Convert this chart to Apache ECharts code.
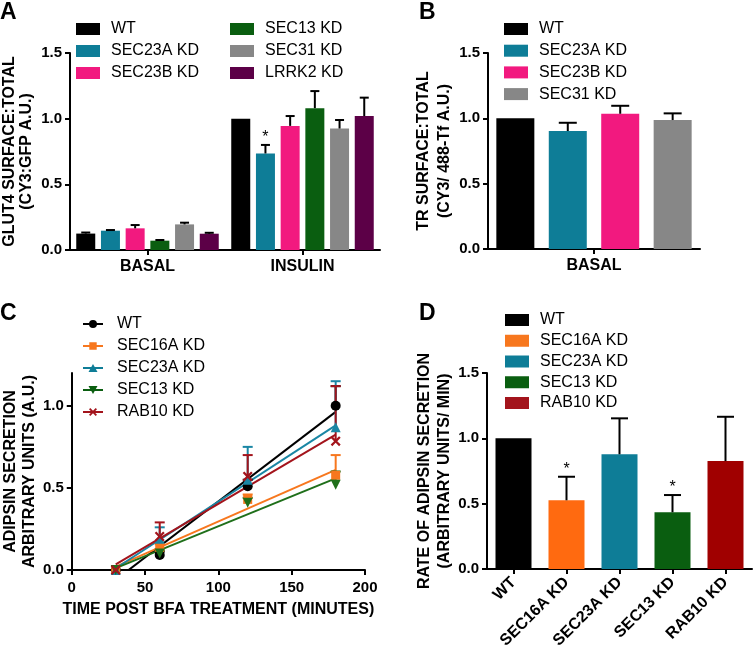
<!DOCTYPE html>
<html><head><meta charset="utf-8">
<script src="https://cdn.jsdelivr.net/npm/echarts@6/dist/echarts.min.js"></script>
<style>html,body{margin:0;padding:0;background:#fff}#c{width:754px;height:652px}</style>
</head><body><div id="c"></div>
<script>
// ---------- Panel A ----------
const aCategories = ['BASAL', 'INSULIN'];
const aNames = ['WT', 'SEC23A KD', 'SEC23B KD', 'SEC13 KD', 'SEC31 KD', 'LRRK2 KD'];
const aWT = [0.125, 1.00];
const aSEC23A = [0.147, 0.735];
const aSEC23B = [0.165, 0.945];
const aSEC13 = [0.071, 1.08];
const aSEC31 = [0.195, 0.925];
const aLRRK2 = [0.124, 1.02];
const aErrWT = [0.008, 0];
const aErrSEC23A = [0.005, 0.065];
const aErrSEC23B = [0.025, 0.075];
const aErrSEC13 = [0.005, 0.13];
const aErrSEC31 = [0.013, 0.065];
const aErrLRRK2 = [0.007, 0.14];
const aSigSEC23A = [0, 1];

// ---------- Panel B ----------
const bCategories = ['BASAL'];
const bNames = ['WT', 'SEC23A KD', 'SEC23B KD', 'SEC31 KD'];
const bValues = [1.00, 0.903, 1.035, 0.987];
const bErrors = [0, 0.063, 0.061, 0.051];

// ---------- Panel C ----------
const cNames = ['WT', 'SEC16A KD', 'SEC23A KD', 'SEC13 KD', 'RAB10 KD'];
const cTimes = [30, 60, 120, 180];
const cWT = [0.0, 0.092, 0.51, 1.00];
const cSEC16A = [0.0, 0.137, 0.43, 0.577];
const cSEC23A = [0.0, 0.19, 0.55, 0.87];
const cSEC13 = [0.0, 0.10, 0.41, 0.52];
const cRAB10 = [0.0, 0.204, 0.57, 0.785];
const cErrWT = [0, 0.02, 0.04, 0.12];
const cErrSEC16A = [0, 0.02, 0.03, 0.123];
const cErrSEC23A = [0, 0.07, 0.20, 0.28];
const cErrSEC13 = [0, 0.02, 0.03, 0.08];
const cErrRAB10 = [0, 0.086, 0.13, 0.335];
const cXTicks = [0, 50, 100, 150, 200];
const cYTicks = [0, 0.5, 1.0];

// ---------- Panel D ----------
const dCategories = ['WT', 'SEC16A KD', 'SEC23A KD', 'SEC13 KD', 'RAB10 KD'];
const dValues = [1.00, 0.526, 0.878, 0.434, 0.826];
const dErrors = [0, 0.18, 0.275, 0.132, 0.339];
const dSig = [0, 1, 0, 1, 0];

const yTicks = [0, 0.5, 1.0, 1.5];

// ---------- styling ----------
const FONT = "'Liberation Sans', Arial, Helvetica, sans-serif";
const aColors = ['#000000', '#0e7d97', '#f2197f', '#0a5e10', '#878787', '#5c0047'];
const bColors = ['#000000', '#0e7d97', '#f2197f', '#878787'];
const cColors = ['#000000', '#f7771e', '#1a86a4', '#1f6f1a', '#a3141c'];
const cSymbols = ['circle', 'rect', 'triangle', 'triangle', 'path://M0,1.6L1.6,0L5,3.4L8.4,0L10,1.6L6.6,5L10,8.4L8.4,10L5,6.6L1.6,10L0,8.4L3.4,5Z'];
const cSymbolSizes = [10, 9, 10, 10, 10];
const cSymbolRotate = [0, 0, 0, 180, 0];
const LINE = 'M0,3H20V5H0Z';
const cLegendIcons = [
  'path://' + LINE + 'M14,4A4,4 0 1,1 6,4A4,4 0 1,1 14,4Z',
  'path://' + LINE + 'M6.3,0.3H13.7V7.7H6.3Z',
  'path://' + LINE + 'M10,0L14.5,8H5.5Z',
  'path://' + LINE + 'M5.5,0H14.5L10,8Z',
  'path://' + LINE + 'M6,1.28L7.28,0L10,2.72L12.72,0L14,1.28L11.28,4L14,6.72L12.72,8L10,5.28L7.28,8L6,6.72L8.72,4Z'
];
const dColors = ['#000000', '#ff6a10', '#0e7d97', '#0a5e10', '#a00000'];

const aSeriesVals = [aWT, aSEC23A, aSEC23B, aSEC13, aSEC31, aLRRK2];
const aSeriesErr = [aErrWT, aErrSEC23A, aErrSEC23B, aErrSEC13, aErrSEC31, aErrLRRK2];
const aSeriesSig = [[0,0], aSigSEC23A, [0,0], [0,0], [0,0], [0,0]];
const cSeriesVals = [cWT, cSEC16A, cSEC23A, cSEC13, cRAB10];
const cSeriesErr = [cErrWT, cErrSEC16A, cErrSEC23A, cErrSEC13, cErrRAB10];

const axisLineStyle = { show: true, lineStyle: { color: '#000', width: 2 } };
const axisTickStyle = { show: true, length: 5, lineStyle: { color: '#000', width: 2 } };
const tickLabel = { color: '#000', fontFamily: FONT, fontWeight: 'bold', fontSize: 15 };
const nameStyle = (lh) => ({ color: '#000', fontFamily: FONT, fontWeight: 'bold', fontSize: 16, lineHeight: lh });

function valueYAxis(gi, name, gap, lh, max, ticks) {
  return {
    type: 'value', gridIndex: gi, min: 0, max: max, interval: 0.5,
    name: name, nameLocation: 'middle', nameGap: gap, nameTextStyle: nameStyle(lh),
    axisLine: axisLineStyle,
    axisTick: Object.assign({ customValues: ticks }, axisTickStyle),
    axisLabel: Object.assign({ margin: 8, customValues: ticks, formatter: v => v.toFixed(1) }, tickLabel),
    splitLine: { show: false }
  };
}
function catXAxis(gi, cats, extraLabel) {
  return {
    type: 'category', gridIndex: gi, data: cats,
    axisLine: axisLineStyle,
    axisTick: Object.assign({ alignWithLabel: true }, axisTickStyle),
    axisLabel: Object.assign({}, tickLabel, { fontSize: 16, margin: 9 }, extraLabel || {}),
    splitLine: { show: false }
  };
}

// error bar renderer for grouped bars
function makeBarErr(n, spacing, capW) {
  return function (params, api) {
    const c = api.value(0), v = api.value(1), e = api.value(2), s = api.value(3), sig = api.value(4);
    const base = api.coord([c, v]);
    const top = api.coord([c, v + e]);
    const x = base[0] + (s - (n - 1) / 2) * spacing;
    const children = [];
    const st = { stroke: '#000', lineWidth: 2 };
    if (e > 0) {
      children.push({ type: 'line', shape: { x1: x, y1: base[1], x2: x, y2: top[1] }, style: st });
      children.push({ type: 'line', shape: { x1: x - capW / 2, y1: top[1], x2: x + capW / 2, y2: top[1] }, style: st });
    }
    if (sig) {
      children.push({ type: 'text', x: x, y: top[1] + 1, style: { text: '*', fill: '#000', font: '16px ' + FONT, align: 'center', verticalAlign: 'bottom' } });
    }
    return { type: 'group', children: children };
  };
}

const series = [];
// A bars
aNames.forEach((nm, i) => {
  series.push({ type: 'bar', name: nm, xAxisIndex: 0, yAxisIndex: 0, data: aSeriesVals[i],
    barWidth: 19, barGap: '30%', itemStyle: { color: aColors[i] } });
});
const aErrData = [];
aNames.forEach((nm, i) => aCategories.forEach((c, j) => aErrData.push([j, aSeriesVals[i][j], aSeriesErr[i][j], i, aSeriesSig[i][j]])));
series.push({ type: 'custom', xAxisIndex: 0, yAxisIndex: 0, z: 10, renderItem: makeBarErr(6, 19 * 1.3, 9),
  data: aErrData, encode: { x: 0, y: 1 }, clip: false });

// B bars
bNames.forEach((nm, i) => {
  series.push({ type: 'bar', name: nm, xAxisIndex: 1, yAxisIndex: 1, data: [bValues[i]],
    barWidth: 38, barGap: '38%', itemStyle: { color: bColors[i] } });
});
series.push({ type: 'custom', xAxisIndex: 1, yAxisIndex: 1, z: 10, renderItem: makeBarErr(4, 38 * 1.38, 18),
  data: bNames.map((nm, i) => [0, bValues[i], bErrors[i], i, 0]), encode: { x: 0, y: 1 }, clip: false });

// C fitted lines, points, error bars
function linFit(xs, ys) {
  const n = xs.length;
  const mx = xs.reduce((a, b) => a + b, 0) / n, my = ys.reduce((a, b) => a + b, 0) / n;
  let sxy = 0, sxx = 0;
  for (let i = 0; i < n; i++) { sxy += (xs[i] - mx) * (ys[i] - my); sxx += (xs[i] - mx) * (xs[i] - mx); }
  const k = sxy / sxx; return [k, my - k * mx];
}
cNames.forEach((nm, i) => {
  const f = linFit(cTimes, cSeriesVals[i]);
  const x0 = cTimes[0], x1 = cTimes[cTimes.length - 1];
  series.push({ type: 'line', name: nm, xAxisIndex: 2, yAxisIndex: 2, z: 4,
    symbol: 'none', clip: true,
    data: [[x0, f[0] * x0 + f[1]], [x1, f[0] * x1 + f[1]]],
    lineStyle: { color: cColors[i], width: 2 }, itemStyle: { color: cColors[i], borderWidth: 0 } });
});
cNames.forEach((nm, i) => {
  series.push({ type: 'line', name: nm, xAxisIndex: 2, yAxisIndex: 2, z: 6,
    data: cTimes.map((t, j) => [t, cSeriesVals[i][j]]),
    symbol: cSymbols[i], symbolSize: cSymbolSizes[i], symbolRotate: cSymbolRotate[i], showSymbol: true,
    itemStyle: { color: cColors[i], borderWidth: 0 }, lineStyle: { opacity: 0, width: 0 }, clip: false });
});
const cErrData = [];
cNames.forEach((nm, i) => cTimes.forEach((t, j) => cErrData.push([t, cSeriesVals[i][j], cSeriesErr[i][j], i])));
series.push({ type: 'custom', xAxisIndex: 2, yAxisIndex: 2, z: 5, clip: false, data: cErrData, encode: { x: 0, y: 1 },
  renderItem: function (params, api) {
    const x = api.value(0), v = api.value(1), e = api.value(2), s = api.value(3);
    if (!(e > 0)) return { type: 'group', children: [] };
    const b = api.coord([x, v]), t = api.coord([x, v + e]);
    const st = { stroke: cColors[s], lineWidth: 2 };
    return { type: 'group', children: [
      { type: 'line', shape: { x1: b[0], y1: b[1], x2: b[0], y2: t[1] }, style: st },
      { type: 'line', shape: { x1: b[0] - 5, y1: t[1], x2: b[0] + 5, y2: t[1] }, style: st }
    ] };
  } });

// D bars
dCategories.forEach((nm, i) => {
  series.push({ type: 'bar', name: nm, xAxisIndex: 3, yAxisIndex: 3,
    data: dCategories.map((c, j) => j === i ? dValues[i] : '-'),
    barWidth: 36, barGap: '-100%', itemStyle: { color: dColors[i] } });
});
series.push({ type: 'custom', xAxisIndex: 3, yAxisIndex: 3, z: 10, renderItem: makeBarErr(1, 0, 17),
  data: dCategories.map((c, i) => [i, dValues[i], dErrors[i], 0, dSig[i]]), encode: { x: 0, y: 1 }, clip: false });

const legendText = { color: '#000', fontFamily: FONT, fontSize: 16, lineHeight: 16, padding: [0, 0, 0, 6] };
function barLegend(names, left, top, gap) {
  return { orient: 'vertical', left: left, top: top, itemWidth: 24, itemHeight: 12, itemGap: gap,
    icon: 'rect', selectedMode: false, data: names, textStyle: legendText, padding: 0 };
}

const option = {
  animation: false,
  backgroundColor: '#fff',
  textStyle: { fontFamily: FONT },
  grid: [
    { left: 69, top: 53, width: 311, height: 197 },
    { left: 488, top: 53, width: 212, height: 196 },
    { left: 70, top: 373, width: 295, height: 197 },
    { left: 487, top: 373, width: 265, height: 196 }
  ],
  xAxis: [
    catXAxis(0, aCategories),
    catXAxis(1, bCategories),
    {
      type: 'value', gridIndex: 2, min: 0, max: 200, interval: 50,
      name: 'TIME POST BFA TREATMENT (MINUTES)', nameLocation: 'middle', nameGap: 31, nameTextStyle: nameStyle(18),
      axisLine: axisLineStyle, axisTick: Object.assign({ customValues: cXTicks }, axisTickStyle),
      axisLabel: Object.assign({ margin: 10, customValues: cXTicks }, tickLabel), splitLine: { show: false }
    },
    catXAxis(3, dCategories, { rotate: 45, margin: 11 })
  ],
  yAxis: [
    valueYAxis(0, 'GLUT4 SURFACE:TOTAL\n(CY3:GFP A.U.)', 35, 17, 1.5, yTicks),
    valueYAxis(1, 'TR SURFACE:TOTAL\n(CY3/ 488-Tf A.U.)', 21, 21, 1.5, yTicks),
    valueYAxis(2, 'ADIPSIN SECRETION\nARBITRARY UNITS (A.U.)', 32, 19, 1.2, cYTicks),
    valueYAxis(3, 'RATE OF ADIPSIN SECRETION\n(ARBITRARY UNITS/ MIN)', 20, 20, 1.5, yTicks)
  ],
  legend: [
    barLegend(aNames.slice(0, 3), 76, 21, 6),
    barLegend(aNames.slice(3, 6), 230, 21, 6),
    barLegend(bNames, 504, 21, 5.7),
    { orient: 'vertical', left: 83, top: 316, itemWidth: 20, itemHeight: 8, itemGap: 6, selectedMode: false,
      data: cNames.map((n, i) => ({ name: n, icon: cLegendIcons[i] })),
      textStyle: Object.assign({}, legendText, { padding: [0, 0, 0, 9] }), padding: 0,
      itemStyle: { borderWidth: 0 } },
    barLegend(dCategories, 505, 312, 4.75)
  ],
  graphic: [
    { type: 'text', left: 0, top: 1, style: { text: 'A', font: 'bold 23px ' + FONT, fill: '#000' } },
    { type: 'text', left: 419, top: 1, style: { text: 'B', font: 'bold 23px ' + FONT, fill: '#000' } },
    { type: 'text', left: 0, top: 302, style: { text: 'C', font: 'bold 23px ' + FONT, fill: '#000' } },
    { type: 'text', left: 419, top: 302, style: { text: 'D', font: 'bold 23px ' + FONT, fill: '#000' } }
  ],
  series: series
};
const chart = echarts.init(document.getElementById('c'), null, { renderer: 'canvas' });
chart.setOption(option);
</script></body></html>
